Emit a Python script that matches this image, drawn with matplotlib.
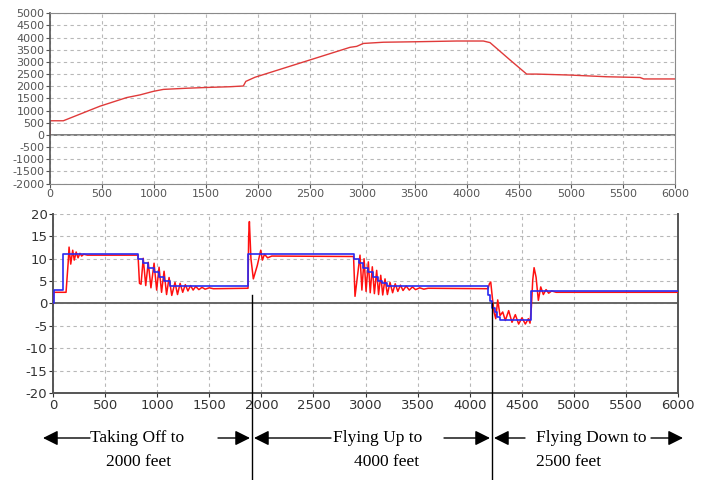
import matplotlib
matplotlib.use("Agg")
import matplotlib.pyplot as plt

plt.rcParams["axes.unicode_minus"] = False

# ---------------- data ----------------
# Top panel: altitude (feet) vs time
alt_t = [0, 2, 128, 480, 736, 864, 992, 1088, 1312, 1504, 1728, 1856, 1880, 1968,
         2496, 2880, 2944, 2976, 3008, 3200, 3520, 3904, 4160, 4224, 4416, 4576,
         4672, 4992, 5344, 5664, 5700, 6000]
alt_v = [0, 580, 580, 1180, 1534, 1644, 1790, 1870, 1918, 1950, 1980, 2010, 2200, 2370,
         3082, 3600, 3640, 3700, 3760, 3810, 3830, 3860, 3860, 3795, 3082, 2500,
         2500, 2460, 2390, 2360, 2300, 2300]

# Bottom panel: reference (blue, step) and response (red)
ref_t = [0, 5, 96, 816, 866, 916, 966, 1016, 1066, 1123, 1875,
         2890, 2935, 2980, 3025, 3070, 3115, 3160, 3206,
         4176, 4195, 4215, 4240, 4265, 4290, 4589, 6000]
ref_v = [0, 3.1, 11.1, 10, 9, 8, 7, 6, 5, 3.8, 11.1,
         10, 9, 8, 7, 6, 5, 4.5, 3.8,
         2, 0.5, -1, -2, -3, -3.6, 2.9, 2.9]

resp_t = [0, 5, 125, 145, 154, 170, 189, 204, 222, 240, 258, 275, 295, 330, 816,
          830, 845, 866, 890, 914, 940, 970, 995, 1018, 1042, 1066, 1090, 1114, 1140,
          1171, 1195, 1220, 1245, 1270, 1295, 1320, 1345, 1370, 1400, 1430, 1460,
          1500, 1540, 1872, 1878, 1885, 1900, 1923, 1961, 1994, 2010, 2030, 2060,
          2100, 2885, 2899, 2947, 2965, 2986, 3005, 3027, 3045, 3065, 3085, 3107,
          3125, 3146, 3165, 3187, 3210, 3235, 3260, 3285, 3310, 3335, 3360, 3390,
          3420, 3450, 3480, 3520, 3560, 3600, 4176, 4189, 4202, 4217, 4234, 4250,
          4269, 4291, 4317, 4342, 4374, 4406, 4438, 4470, 4502, 4534, 4563, 4579,
          4592, 4605, 4618, 4637, 4659, 4682, 4707, 4733, 4758, 4787, 4830, 6000]
resp_v = [0, 2.5, 2.5, 9, 12.6, 8.8, 11.9, 9.7, 11.5, 10.2, 11.2, 10.6, 11.0, 10.8, 10.8,
          4.5, 4.3, 10.1, 4.0, 9.2, 3.5, 9.0, 3.0, 8.1, 2.5, 7.2, 2.0, 5.8, 1.8,
          4.7, 2.0, 4.5, 2.5, 4.2, 2.8, 4.0, 3.0, 3.8, 3.1, 3.6, 3.2,
          3.5, 3.3, 3.4, 15, 18.3, 10, 5.5, 8.5, 11.9, 9.7, 11.0, 10.2,
          10.6, 10.5, 1.6, 10.8, 3.0, 10.0, 2.7, 9.3, 2.4, 8.2, 2.2, 7.4,
          2.0, 6.3, 1.9, 5.5, 2.0, 4.7, 2.4, 4.4, 2.7, 4.1, 2.9, 3.9,
          3.0, 3.7, 3.1, 3.5, 3.2, 3.4, 3.3, 4.4, 4.8, 1.4, -2.0, -3.4,
          0.8, -2.7, -1.9, -3.8, -1.6, -4.2, -2.5, -4.6, -3.2, -4.6, -3.4, -4.4,
          -0.8, 5.2, 8.0, 5.9, 0.7, 3.7, 2.0, 3.1, 2.3, 2.8, 2.5, 2.5]

x_ticks = list(range(0, 6001, 500))
alt_ticks = list(range(-2000, 5001, 500))
ang_ticks = list(range(-20, 21, 5))

phase_bounds = [1910, 4214]
phase_line1 = ["Taking Off to", "Flying Up to", "Flying Down to"]
phase_line2 = ["2000 feet", "4000 feet", "2500 feet"]

# ---------------- figure ----------------
fig = plt.figure(figsize=(7.06, 4.80), dpi=100)
fig.patch.set_facecolor("white")

grid_kw = dict(color="#b8b8b8", linestyle=(0, (3, 3)), linewidth=0.8)

# Top axes
ax1 = fig.add_axes([0.0708, 0.6177, 0.8853, 0.3546])
ax1.plot(alt_t, alt_v, color="#e03a3a", lw=1.0)
ax1.axhline(0, color="#666666", lw=1.2, zorder=1)
ax1.set_xlim(0, 6000)
ax1.set_ylim(-2000, 5000)
ax1.set_xticks(x_ticks)
ax1.set_yticks(alt_ticks)
ax1.grid(True, **grid_kw)
ax1.tick_params(labelsize=8, colors="#555555", length=3, width=0.8, pad=1)
for s in ["top", "right", "bottom"]:
    ax1.spines[s].set_color("#8a8a8a")
ax1.spines["left"].set_color("#555555")
ax1.spines["left"].set_linewidth(1.2)

# Bottom axes
ax2 = fig.add_axes([0.0751, 0.1813, 0.8853, 0.3729])
ax2.plot(resp_t, resp_v, color="#ff1010", lw=1.1, zorder=3)
ax2.plot(ref_t, ref_v, color="#2a2af0", lw=1.2, drawstyle="steps-post", zorder=4)
ax2.axhline(0, color="#666666", lw=1.4, zorder=2)
ax2.set_xlim(0, 6000)
ax2.set_ylim(-20, 20)
ax2.set_xticks(x_ticks)
ax2.set_yticks(ang_ticks)
ax2.grid(True, **grid_kw)
ax2.tick_params(labelsize=9.5, colors="#333333", length=3, width=0.8, pad=1)
ax2.spines["top"].set_visible(False)
for s in ["left", "right", "bottom"]:
    ax2.spines[s].set_color("#555555")
    ax2.spines[s].set_linewidth(1.4)

# phase separator lines
ax2.plot([phase_bounds[0]] * 2, [2, -40], color="black", lw=1.0, clip_on=False, zorder=5)
ax2.plot([phase_bounds[1]] * 2, [0, -40], color="black", lw=1.0, clip_on=False, zorder=5)

# annotations (figure pixel coordinates converted to fractions)
W, H = 706.0, 480.0
y1 = 1 - 438 / H
y2 = 1 - 462 / H
serif = dict(family=["Liberation Serif", "DejaVu Serif"], fontsize=12.5, color="black")


def arrow(x_from, x_to):
    fig.add_artist(matplotlib.patches.FancyArrowPatch(
        (x_from / W, y1), (x_to / W, y1), transform=fig.transFigure,
        arrowstyle="-|>,head_length=9,head_width=4.5", mutation_scale=1,
        color="black", lw=1.0, shrinkA=0, shrinkB=0))


arrow(90, 43)
arrow(218, 250)
arrow(331, 254)
arrow(444, 490)
arrow(525, 494)
arrow(651, 683)

fig.text(90 / W, y1, phase_line1[0], ha="left", va="center", **serif)
fig.text(333 / W, y1, phase_line1[1], ha="left", va="center", **serif)
fig.text(536 / W, y1, phase_line1[2], ha="left", va="center", **serif)
fig.text(139 / W, y2, phase_line2[0], ha="center", va="center", **serif)
fig.text(387 / W, y2, phase_line2[1], ha="center", va="center", **serif)
fig.text(536 / W, y2, phase_line2[2], ha="left", va="center", **serif)

fig.savefig("out.png", dpi=100, facecolor="white")
